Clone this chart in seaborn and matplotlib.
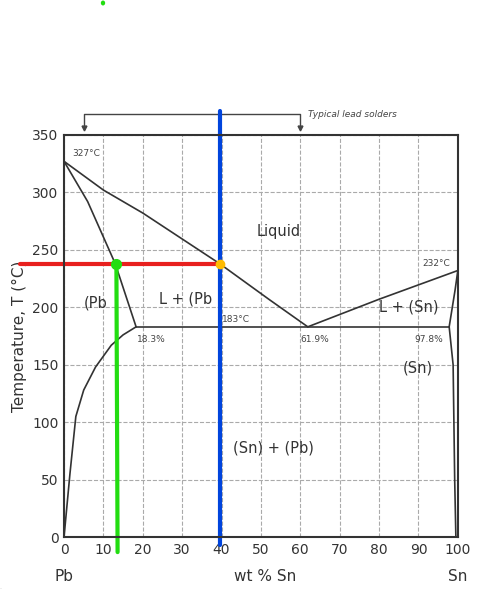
import matplotlib
matplotlib.use("Agg")
import matplotlib.pyplot as plt
import seaborn as sns

sns.set_theme(style="white")
plt.rcParams['font.family'] = ['DejaVu Sans']

# phase boundaries (wt % Sn, T in C)
liquidus_pb_x = [0, 10, 20, 39.5, 52, 61.9]
liquidus_pb_y = [327, 302, 282, 238, 207, 183]
liquidus_sn_x = [61.9, 80, 100]
liquidus_sn_y = [183, 207, 232]
solidus_pb_x = [0, 6, 13, 18.3]
solidus_pb_y = [327, 292, 238, 183]
solvus_pb_x = [18.3, 15, 12, 8, 5, 3, 1.5, 0]
solvus_pb_y = [183, 176, 167, 148, 128, 105, 55, 0]
eutectic_x = [18.3, 97.8]
eutectic_y = [183, 183]
solidus_sn_x = [97.8, 99.3, 100]
solidus_sn_y = [183, 215, 232]
solvus_sn_x = [97.8, 98.8, 99.2, 99.5]
solvus_sn_y = [183, 150, 50, 0]

temp_line = 238
comp_line = 39.5
solid_comp = 13.3

fig = plt.figure(figsize=(4.85, 5.89), dpi=100)
ax = fig.add_axes([0.132, 0.088, 0.812, 0.683])
k = dict(color='#333333', lw=1.2)
for xs, ys in [(liquidus_pb_x, liquidus_pb_y), (liquidus_sn_x, liquidus_sn_y),
               (solidus_pb_x, solidus_pb_y), (solvus_pb_x, solvus_pb_y),
               (eutectic_x, eutectic_y), (solidus_sn_x, solidus_sn_y),
               (solvus_sn_x, solvus_sn_y)]:
    sns.lineplot(x=xs, y=ys, ax=ax, sort=False, estimator=None, **k)

ax.set_xlim(0, 100)
ax.set_ylim(0, 350)
ax.set_xticks(range(0, 101, 10))
ax.set_yticks(range(0, 351, 50))
ax.grid(True, ls='--', color='#aaaaaa', lw=0.8)
for s in ax.spines.values():
    s.set_color('#333333')
    s.set_linewidth(1.5)
ax.tick_params(labelsize=10, colors='#333333', length=0, pad=4)
ax.set_ylabel("Temperature, T (°C)", fontsize=11, color='#333333')
lab = dict(ha='center', va='center', fontsize=11, color='#333333')
ax.text(0, -34, "Pb", **lab)
ax.text(100, -34, "Sn", **lab)
ax.text(51, -34, "wt % Sn", **lab)

small = dict(fontsize=6.5, color='#444444')
ax.text(2, 332, "327°C", **small)
ax.text(91, 236, "232°C", **small)
ax.text(40, 187, "183°C", **small)
ax.text(18.5, 170, "18.3%", **small)
ax.text(60, 170, "61.9%", **small)
ax.text(89, 170, "97.8%", **small)
big = dict(fontsize=10.5, color='#333333')
ax.text(49, 262, "Liquid", **big)
ax.text(5, 200, "(Pb", **big)
ax.text(24, 203, "L + (Pb", **big)
ax.text(80, 196, "L + (Sn)", **big)
ax.text(86, 143, "(Sn)", **big)
ax.text(43, 74, "(Sn) + (Pb)", **big)

# typical solders bracket
ax.plot([5, 5, 60, 60], [356, 368, 368, 356], color='#444444', lw=1, clip_on=False)
ax.plot([5, 60], [356, 356], 'v', color='#444444', ms=3.5, clip_on=False)
ax.text(62, 368, "Typical lead solders", fontsize=6.5, style='italic',
        color='#444444', va='center')

# overlay lines
ax.plot([-11.2, comp_line], [temp_line, temp_line], color='#e8201e', lw=3, clip_on=False)
ax.plot([solid_comp, solid_comp + 0.3], [temp_line, -13], color='#22dd11', lw=3, clip_on=False)
ax.plot([comp_line, comp_line], [371, -7], color='#0044dd', lw=3, clip_on=False)
ax.plot([solid_comp], [temp_line], 'o', color='#22dd11', ms=7, clip_on=False)
ax.plot([comp_line], [temp_line], 'o', color='#ffbb00', ms=6, clip_on=False)

fig.lines.append(plt.Line2D([0, 1], [0.01, 0.01], color='#888888', lw=1))
fig.patches.append(plt.Circle((103 / 485, 1 - 3 / 589), 0.003, color='#22dd11',
                              transform=fig.transFigure))

fig.savefig("out.png", dpi=100)
